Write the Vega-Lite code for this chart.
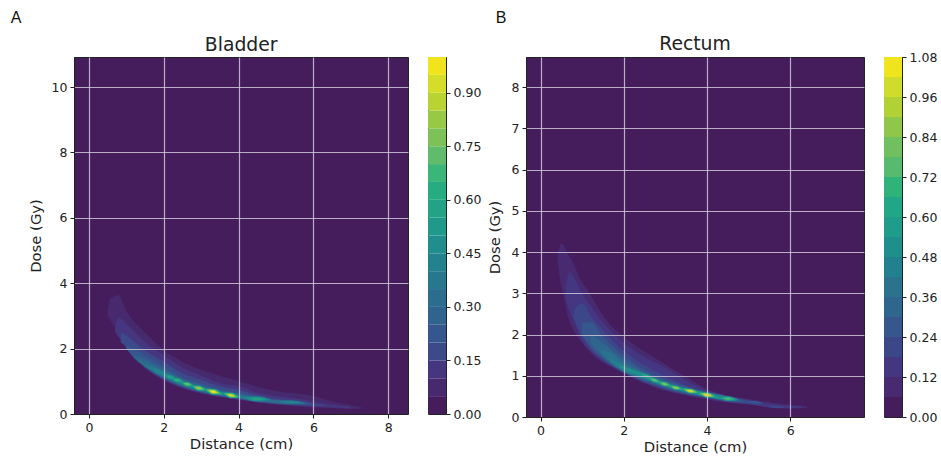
{
"$schema":"https://vega.github.io/schema/vega-lite/v6.json",
"autosize":{"type":"pad"},
"padding":{"left":10,"top":9,"right":5,"bottom":2},
"background":"white",
"config":{"font":"DejaVu Sans","view":{"stroke":"#222222","strokeWidth":1},
"axis":{"labelColor":"#222222","titleColor":"#222222","tickColor":"#222222","domainColor":"#222222","labelFontSize":12.5,"titleFontSize":14.8,"titleFontWeight":"normal","tickSize":4,"labelPadding":3,"labelFont":"DejaVu Sans","titleFont":"DejaVu Sans"}},
"bounds":"flush",
"spacing":20,
"resolve":{"scale":{"color":"independent"}},
"datasets":{
"bladder":[
{"l":0.05,"s":"o","x":0.5,"y":3.0,"y2":3.15},{"l":0.05,"s":"o","x":0.56,"y":2.9,"y2":3.52},{"l":0.05,"s":"o","x":0.79,"y":2.45,"y2":3.63},{"l":0.05,"s":"o","x":1,"y":2.0,"y2":3.15},{"l":0.05,"s":"o","x":1.5,"y":1.4,"y2":2.5},{"l":0.05,"s":"o","x":2,"y":1.02,"y2":1.95},{"l":0.05,"s":"o","x":2.5,"y":0.78,"y2":1.6},{"l":0.05,"s":"o","x":3,"y":0.62,"y2":1.35},{"l":0.05,"s":"o","x":4,"y":0.43,"y2":1.0},{"l":0.05,"s":"o","x":5,"y":0.29,"y2":0.7},{"l":0.05,"s":"o","x":6,"y":0.2,"y2":0.55},{"l":0.05,"s":"o","x":6.5,"y":0.18,"y2":0.38},{"l":0.05,"s":"o","x":7,"y":0.15,"y2":0.27},{"l":0.05,"s":"o","x":7.3,"y":0.17,"y2":0.2},
{"l":0.1,"s":"p","x":0.7,"y":2.5,"y2":2.7},{"l":0.1,"s":"p","x":0.8,"y":2.35,"y2":2.95},{"l":0.1,"s":"p","x":1,"y":2.03,"y2":2.75},{"l":0.1,"s":"p","x":1.5,"y":1.41,"y2":2.2},{"l":0.1,"s":"p","x":2,"y":1.05,"y2":1.8},{"l":0.1,"s":"p","x":2.5,"y":0.8,"y2":1.42},{"l":0.1,"s":"p","x":3,"y":0.64,"y2":1.18},{"l":0.1,"s":"p","x":3.5,"y":0.52,"y2":0.95},{"l":0.1,"s":"p","x":4,"y":0.45,"y2":0.85},{"l":0.1,"s":"p","x":4.5,"y":0.36,"y2":0.65},{"l":0.1,"s":"p","x":5,"y":0.3,"y2":0.55},{"l":0.1,"s":"p","x":5.5,"y":0.26,"y2":0.48},{"l":0.1,"s":"p","x":6,"y":0.22,"y2":0.38},{"l":0.1,"s":"p","x":6.5,"y":0.2,"y2":0.28},{"l":0.1,"s":"p","x":7,"y":0.17,"y2":0.22},
{"l":0.15,"s":"q","x":0.85,"y":2.2,"y2":2.5},{"l":0.15,"s":"q","x":1,"y":2.05,"y2":2.4},{"l":0.15,"s":"q","x":1.5,"y":1.42,"y2":1.95},{"l":0.15,"s":"q","x":2,"y":1.07,"y2":1.6},{"l":0.15,"s":"q","x":2.5,"y":0.82,"y2":1.25},{"l":0.15,"s":"q","x":3,"y":0.66,"y2":1.05},{"l":0.15,"s":"q","x":3.5,"y":0.54,"y2":0.85},{"l":0.15,"s":"q","x":4,"y":0.46,"y2":0.74},{"l":0.15,"s":"q","x":4.5,"y":0.37,"y2":0.58},{"l":0.15,"s":"q","x":5,"y":0.31,"y2":0.47},{"l":0.15,"s":"q","x":5.5,"y":0.28,"y2":0.42},{"l":0.15,"s":"q","x":6,"y":0.25,"y2":0.32},{"l":0.15,"s":"q","x":6.3,"y":0.25,"y2":0.27},
{"l":0.2,"s":"r","x":1,"y":2.0,"y2":2.1},{"l":0.2,"s":"r","x":1.2,"y":1.72,"y2":2.0},{"l":0.2,"s":"r","x":1.5,"y":1.44,"y2":1.8},{"l":0.2,"s":"r","x":2,"y":1.09,"y2":1.45},{"l":0.2,"s":"r","x":2.5,"y":0.84,"y2":1.12},{"l":0.2,"s":"r","x":3,"y":0.67,"y2":0.93},{"l":0.2,"s":"r","x":3.5,"y":0.55,"y2":0.76},{"l":0.2,"s":"r","x":4,"y":0.47,"y2":0.66},{"l":0.2,"s":"r","x":4.5,"y":0.38,"y2":0.53},{"l":0.2,"s":"r","x":5,"y":0.32,"y2":0.43},{"l":0.2,"s":"r","x":5.5,"y":0.29,"y2":0.39},{"l":0.2,"s":"r","x":5.9,"y":0.3,"y2":0.33},
{"l":0.25,"s":"t","x":1.2,"y":1.72,"y2":1.8},{"l":0.25,"s":"t","x":1.5,"y":1.46,"y2":1.68},{"l":0.25,"s":"t","x":2,"y":1.1,"y2":1.38},{"l":0.25,"s":"t","x":2.5,"y":0.85,"y2":1.08},{"l":0.25,"s":"t","x":3,"y":0.68,"y2":0.88},{"l":0.25,"s":"t","x":3.5,"y":0.56,"y2":0.73},{"l":0.25,"s":"t","x":4,"y":0.48,"y2":0.62},{"l":0.25,"s":"t","x":4.5,"y":0.39,"y2":0.52},{"l":0.25,"s":"t","x":5,"y":0.33,"y2":0.42},{"l":0.25,"s":"t","x":5.5,"y":0.3,"y2":0.39},{"l":0.25,"s":"t","x":5.7,"y":0.32,"y2":0.35},
{"l":0.3,"s":"u","x":1.3,"y":1.62,"y2":1.68},{"l":0.3,"s":"u","x":1.6,"y":1.38,"y2":1.55},{"l":0.3,"s":"u","x":2,"y":1.12,"y2":1.33},{"l":0.3,"s":"u","x":2.5,"y":0.86,"y2":1.05},{"l":0.3,"s":"u","x":3,"y":0.69,"y2":0.85},{"l":0.3,"s":"u","x":3.5,"y":0.57,"y2":0.71},{"l":0.3,"s":"u","x":4,"y":0.49,"y2":0.6},{"l":0.3,"s":"u","x":4.5,"y":0.4,"y2":0.51},{"l":0.3,"s":"u","x":5,"y":0.34,"y2":0.41},{"l":0.3,"s":"u","x":5.5,"y":0.31,"y2":0.38},
{"l":0.35,"s":"v","x":1.5,"y":1.46,"y2":1.52},{"l":0.35,"s":"v","x":2,"y":1.14,"y2":1.3},{"l":0.35,"s":"v","x":2.5,"y":0.88,"y2":1.02},{"l":0.35,"s":"v","x":3,"y":0.71,"y2":0.83},{"l":0.35,"s":"v","x":3.5,"y":0.59,"y2":0.69},{"l":0.35,"s":"v","x":4,"y":0.5,"y2":0.58},{"l":0.35,"s":"v","x":4.4,"y":0.42,"y2":0.49},{"l":0.35,"s":"v2","x":5.05,"y":0.4,"y2":0.405},{"l":0.35,"s":"v2","x":5.43,"y":0.305,"y2":0.415},{"l":0.35,"s":"v2","x":5.81,"y":0.33,"y2":0.335},
{"l":0.4,"s":"w","x":1.75,"y":1.28,"y2":1.42},{"l":0.4,"s":"w","x":2,"y":1.16,"y2":1.28},{"l":0.4,"s":"w","x":2.5,"y":0.9,"y2":1.0},{"l":0.4,"s":"w","x":3,"y":0.73,"y2":0.81},{"l":0.4,"s":"w","x":3.5,"y":0.6,"y2":0.68},{"l":0.4,"s":"w","x":3.95,"y":0.5,"y2":0.58},{"l":0.4,"s":"w2","x":4.11,"y":0.5,"y2":0.505},{"l":0.4,"s":"w2","x":4.49,"y":0.38,"y2":0.54},{"l":0.4,"s":"w2","x":4.87,"y":0.43,"y2":0.435},{"l":0.4,"s":"w3","x":5.23,"y":0.38,"y2":0.385},{"l":0.4,"s":"w3","x":5.43,"y":0.33,"y2":0.39},{"l":0.4,"s":"w3","x":5.63,"y":0.345,"y2":0.35},
{"l":0.5,"s":"a5","x":2.03,"y":1.18,"y2":1.185},{"l":0.5,"s":"a5","x":2.17,"y":1.075,"y2":1.185},{"l":0.5,"s":"a5","x":2.31,"y":1.09,"y2":1.095},
{"l":0.5,"s":"b5","x":2.22,"y":1.08,"y2":1.085},{"l":0.5,"s":"b5","x":2.37,"y":0.97,"y2":1.09},{"l":0.5,"s":"b5","x":2.52,"y":0.985,"y2":0.99},
{"l":0.5,"s":"c5","x":2.45,"y":0.975,"y2":0.98},{"l":0.5,"s":"c5","x":2.63,"y":0.84,"y2":0.98},{"l":0.5,"s":"c5","x":2.81,"y":0.855,"y2":0.86},
{"l":0.5,"s":"d5","x":2.73,"y":0.865,"y2":0.87},{"l":0.5,"s":"d5","x":2.94,"y":0.71,"y2":0.87},{"l":0.5,"s":"d5","x":3.15,"y":0.73,"y2":0.735},
{"l":0.5,"s":"e5","x":3.07,"y":0.77,"y2":0.775},{"l":0.5,"s":"e5","x":3.33,"y":0.59,"y2":0.77},{"l":0.5,"s":"e5","x":3.59,"y":0.6,"y2":0.605},
{"l":0.5,"s":"f5","x":3.56,"y":0.65,"y2":0.655},{"l":0.5,"s":"f5","x":3.8,"y":0.485,"y2":0.655},{"l":0.5,"s":"f5","x":4.04,"y":0.5,"y2":0.505},
{"l":0.5,"s":"g5","x":4.24,"y":0.49,"y2":0.495},{"l":0.5,"s":"g5","x":4.49,"y":0.41,"y2":0.51},{"l":0.5,"s":"g5","x":4.74,"y":0.44,"y2":0.445},
{"l":0.55,"s":"a6","x":2.09,"y":1.16,"y2":1.165},{"l":0.55,"s":"a6","x":2.17,"y":1.1,"y2":1.16},{"l":0.55,"s":"a6","x":2.25,"y":1.105,"y2":1.11},
{"l":0.55,"s":"g6","x":4.35,"y":0.475,"y2":0.48},{"l":0.55,"s":"g6","x":4.49,"y":0.43,"y2":0.49},{"l":0.55,"s":"g6","x":4.63,"y":0.45,"y2":0.455},
{"l":0.6,"s":"b6","x":2.27,"y":1.065,"y2":1.07},{"l":0.6,"s":"b6","x":2.37,"y":0.99,"y2":1.07},{"l":0.6,"s":"b6","x":2.47,"y":1.0,"y2":1.005},
{"l":0.6,"s":"c6","x":2.49,"y":0.96,"y2":0.965},{"l":0.6,"s":"c6","x":2.63,"y":0.855,"y2":0.965},{"l":0.6,"s":"c6","x":2.77,"y":0.87,"y2":0.875},
{"l":0.6,"s":"d6","x":2.77,"y":0.85,"y2":0.855},{"l":0.6,"s":"d6","x":2.94,"y":0.725,"y2":0.855},{"l":0.6,"s":"d6","x":3.11,"y":0.74,"y2":0.745},
{"l":0.6,"s":"e6","x":3.11,"y":0.757,"y2":0.76},{"l":0.6,"s":"e6","x":3.33,"y":0.605,"y2":0.755},{"l":0.6,"s":"e6","x":3.55,"y":0.615,"y2":0.62},
{"l":0.6,"s":"f6","x":3.6,"y":0.64,"y2":0.645},{"l":0.6,"s":"f6","x":3.8,"y":0.5,"y2":0.64},{"l":0.6,"s":"f6","x":4,"y":0.51,"y2":0.515},
{"l":0.7,"s":"c7","x":2.54,"y":0.94,"y2":0.945},{"l":0.7,"s":"c7","x":2.63,"y":0.875,"y2":0.945},{"l":0.7,"s":"c7","x":2.72,"y":0.885,"y2":0.89},
{"l":0.7,"s":"d7","x":2.81,"y":0.835,"y2":0.84},{"l":0.7,"s":"d7","x":2.94,"y":0.74,"y2":0.84},{"l":0.7,"s":"d7","x":3.07,"y":0.75,"y2":0.755},
{"l":0.7,"s":"e7","x":3.15,"y":0.743,"y2":0.748},{"l":0.7,"s":"e7","x":3.33,"y":0.615,"y2":0.745},{"l":0.7,"s":"e7","x":3.51,"y":0.625,"y2":0.63},
{"l":0.7,"s":"f7","x":3.64,"y":0.625,"y2":0.63},{"l":0.7,"s":"f7","x":3.8,"y":0.51,"y2":0.63},{"l":0.7,"s":"f7","x":3.96,"y":0.52,"y2":0.525},
{"l":0.8,"s":"d8","x":2.86,"y":0.82,"y2":0.825},{"l":0.8,"s":"d8","x":2.94,"y":0.76,"y2":0.82},{"l":0.8,"s":"d8","x":3.02,"y":0.765,"y2":0.77},
{"l":0.8,"s":"e8","x":3.19,"y":0.73,"y2":0.735},{"l":0.8,"s":"e8","x":3.33,"y":0.63,"y2":0.73},{"l":0.8,"s":"e8","x":3.47,"y":0.64,"y2":0.645},
{"l":0.8,"s":"f8","x":3.68,"y":0.61,"y2":0.615},{"l":0.8,"s":"f8","x":3.8,"y":0.525,"y2":0.615},{"l":0.8,"s":"f8","x":3.92,"y":0.535,"y2":0.54},
{"l":0.9,"s":"e9","x":3.23,"y":0.715,"y2":0.72},{"l":0.9,"s":"e9","x":3.33,"y":0.64,"y2":0.72},{"l":0.9,"s":"e9","x":3.43,"y":0.65,"y2":0.655},
{"l":0.9,"s":"f9","x":3.72,"y":0.6,"y2":0.605},{"l":0.9,"s":"f9","x":3.8,"y":0.54,"y2":0.6},{"l":0.9,"s":"f9","x":3.88,"y":0.545,"y2":0.55},
{"l":0.95,"s":"e10","x":3.27,"y":0.7,"y2":0.705},{"l":0.95,"s":"e10","x":3.33,"y":0.655,"y2":0.705},{"l":0.95,"s":"e10","x":3.39,"y":0.66,"y2":0.665}
],
"rectum":[
{"l":0.06,"s":"o","x":0.41,"y":3.75,"y2":3.97},{"l":0.06,"s":"o","x":0.5,"y":3.15,"y2":4.2},{"l":0.06,"s":"o","x":0.55,"y":2.95,"y2":4.17},{"l":0.06,"s":"o","x":0.66,"y":2.43,"y2":3.95},{"l":0.06,"s":"o","x":0.79,"y":2.1,"y2":3.72},{"l":0.06,"s":"o","x":0.95,"y":1.86,"y2":3.35},{"l":0.06,"s":"o","x":1.18,"y":1.58,"y2":3.0},{"l":0.06,"s":"o","x":1.35,"y":1.42,"y2":2.7},{"l":0.06,"s":"o","x":1.58,"y":1.28,"y2":2.35},{"l":0.06,"s":"o","x":2,"y":1.05,"y2":1.94},{"l":0.06,"s":"o","x":2.7,"y":0.73,"y2":1.46},{"l":0.06,"s":"o","x":3.5,"y":0.52,"y2":0.97},{"l":0.06,"s":"o","x":3.9,"y":0.44,"y2":0.73},{"l":0.06,"s":"o","x":4.3,"y":0.37,"y2":0.57},{"l":0.06,"s":"o","x":5.1,"y":0.29,"y2":0.42},{"l":0.06,"s":"o","x":5.9,"y":0.2,"y2":0.31},{"l":0.06,"s":"o","x":6.4,"y":0.22,"y2":0.26},
{"l":0.12,"s":"p","x":0.6,"y":2.9,"y2":3.1},{"l":0.12,"s":"p","x":0.7,"y":2.55,"y2":3.52},{"l":0.12,"s":"p","x":0.85,"y":2.2,"y2":3.3},{"l":0.12,"s":"p","x":1,"y":1.85,"y2":3.0},{"l":0.12,"s":"p","x":1.2,"y":1.6,"y2":2.7},{"l":0.12,"s":"p","x":1.5,"y":1.35,"y2":2.3},{"l":0.12,"s":"p","x":2,"y":1.07,"y2":1.8},{"l":0.12,"s":"p","x":2.5,"y":0.83,"y2":1.45},{"l":0.12,"s":"p","x":3,"y":0.65,"y2":1.2},{"l":0.12,"s":"p","x":3.5,"y":0.54,"y2":0.88},{"l":0.12,"s":"p","x":4,"y":0.45,"y2":0.65},{"l":0.12,"s":"p","x":4.5,"y":0.36,"y2":0.52},{"l":0.12,"s":"p","x":5,"y":0.31,"y2":0.42},{"l":0.12,"s":"p","x":5.5,"y":0.23,"y2":0.33},{"l":0.12,"s":"p","x":6,"y":0.21,"y2":0.27},{"l":0.12,"s":"p","x":6.3,"y":0.23,"y2":0.25},
{"l":0.18,"s":"q","x":0.8,"y":2.4,"y2":2.6},{"l":0.18,"s":"q","x":1,"y":1.95,"y2":2.75},{"l":0.18,"s":"q","x":1.2,"y":1.65,"y2":2.45},{"l":0.18,"s":"q","x":1.5,"y":1.38,"y2":2.1},{"l":0.18,"s":"q","x":2,"y":1.08,"y2":1.6},{"l":0.18,"s":"q","x":2.5,"y":0.85,"y2":1.25},{"l":0.18,"s":"q","x":3,"y":0.67,"y2":0.98},{"l":0.18,"s":"q","x":3.5,"y":0.55,"y2":0.76},{"l":0.18,"s":"q","x":4,"y":0.46,"y2":0.62},{"l":0.18,"s":"q","x":4.5,"y":0.37,"y2":0.5},{"l":0.18,"s":"q","x":5,"y":0.32,"y2":0.4},{"l":0.18,"s":"q","x":5.3,"y":0.3,"y2":0.34},
{"l":0.18,"s":"q2","x":5.45,"y":0.26,"y2":0.265},{"l":0.18,"s":"q2","x":5.65,"y":0.22,"y2":0.27},{"l":0.18,"s":"q2","x":5.85,"y":0.225,"y2":0.23},
{"l":0.24,"s":"r","x":1,"y":2.0,"y2":2.3},{"l":0.24,"s":"r","x":1.2,"y":1.7,"y2":2.3},{"l":0.24,"s":"r","x":1.5,"y":1.42,"y2":1.95},{"l":0.24,"s":"r","x":2,"y":1.09,"y2":1.48},{"l":0.24,"s":"r","x":2.5,"y":0.87,"y2":1.14},{"l":0.24,"s":"r","x":3,"y":0.69,"y2":0.9},{"l":0.24,"s":"r","x":3.5,"y":0.56,"y2":0.74},{"l":0.24,"s":"r","x":4,"y":0.47,"y2":0.6},{"l":0.24,"s":"r","x":4.5,"y":0.38,"y2":0.49},{"l":0.24,"s":"r","x":4.9,"y":0.36,"y2":0.39},
{"l":0.24,"s":"r2","x":4.95,"y":0.385,"y2":0.39},{"l":0.24,"s":"r2","x":5.15,"y":0.325,"y2":0.385},{"l":0.24,"s":"r2","x":5.35,"y":0.325,"y2":0.33},
{"l":0.3,"s":"t","x":1.2,"y":1.8,"y2":2.0},{"l":0.3,"s":"t","x":1.5,"y":1.46,"y2":1.8},{"l":0.3,"s":"t","x":2,"y":1.1,"y2":1.38},{"l":0.3,"s":"t","x":2.5,"y":0.9,"y2":1.08},{"l":0.3,"s":"t","x":3,"y":0.72,"y2":0.88},{"l":0.3,"s":"t","x":3.5,"y":0.58,"y2":0.72},{"l":0.3,"s":"t","x":4,"y":0.48,"y2":0.6},{"l":0.3,"s":"t","x":4.5,"y":0.39,"y2":0.5},{"l":0.3,"s":"t","x":4.7,"y":0.38,"y2":0.43},
{"l":0.36,"s":"u","x":1.45,"y":1.55,"y2":1.62},{"l":0.36,"s":"u","x":1.7,"y":1.3,"y2":1.55},{"l":0.36,"s":"u","x":2,"y":1.1,"y2":1.3},{"l":0.36,"s":"u","x":2.5,"y":0.92,"y2":1.06},{"l":0.36,"s":"u","x":3,"y":0.73,"y2":0.85},{"l":0.36,"s":"u","x":3.5,"y":0.59,"y2":0.7},{"l":0.36,"s":"u","x":4,"y":0.49,"y2":0.59},{"l":0.36,"s":"u","x":4.5,"y":0.4,"y2":0.49},{"l":0.36,"s":"u","x":4.75,"y":0.39,"y2":0.41},
{"l":0.42,"s":"v","x":1.7,"y":1.35,"y2":1.42},{"l":0.42,"s":"v","x":2,"y":1.12,"y2":1.25},{"l":0.42,"s":"v","x":2.5,"y":0.93,"y2":1.04},{"l":0.42,"s":"v","x":3,"y":0.74,"y2":0.83},{"l":0.42,"s":"v","x":3.5,"y":0.6,"y2":0.69},{"l":0.42,"s":"v","x":4,"y":0.5,"y2":0.58},{"l":0.42,"s":"v","x":4.5,"y":0.41,"y2":0.48},{"l":0.42,"s":"v","x":4.7,"y":0.4,"y2":0.42},
{"l":0.48,"s":"w","x":1.9,"y":1.2,"y2":1.27},{"l":0.48,"s":"w","x":2.2,"y":1.07,"y2":1.15},{"l":0.48,"s":"w","x":2.55,"y":0.94,"y2":1.03},{"l":0.48,"s":"w","x":2.74,"y":0.85,"y2":0.93},{"l":0.48,"s":"w","x":3,"y":0.75,"y2":0.82},{"l":0.48,"s":"w","x":3.25,"y":0.67,"y2":0.74},{"l":0.48,"s":"w","x":3.6,"y":0.58,"y2":0.67},{"l":0.48,"s":"w","x":4,"y":0.49,"y2":0.58},{"l":0.48,"s":"w","x":4.3,"y":0.43,"y2":0.5},
{"l":0.48,"s":"w5","x":4.24,"y":0.485,"y2":0.49},{"l":0.48,"s":"w5","x":4.5,"y":0.385,"y2":0.505},{"l":0.48,"s":"w5","x":4.76,"y":0.41,"y2":0.415},
{"l":0.6,"s":"a6","x":2.43,"y":1.03,"y2":1.035},{"l":0.6,"s":"a6","x":2.55,"y":0.95,"y2":1.03},{"l":0.6,"s":"a6","x":2.67,"y":0.95,"y2":0.955},
{"l":0.6,"s":"b6","x":2.61,"y":0.94,"y2":0.945},{"l":0.6,"s":"b6","x":2.74,"y":0.845,"y2":0.935},{"l":0.6,"s":"b6","x":2.87,"y":0.85,"y2":0.855},
{"l":0.6,"s":"c6","x":2.83,"y":0.85,"y2":0.855},{"l":0.6,"s":"c6","x":2.98,"y":0.75,"y2":0.85},{"l":0.6,"s":"c6","x":3.13,"y":0.76,"y2":0.765},
{"l":0.6,"s":"d6","x":3.09,"y":0.76,"y2":0.765},{"l":0.6,"s":"d6","x":3.25,"y":0.66,"y2":0.76},{"l":0.6,"s":"d6","x":3.41,"y":0.67,"y2":0.675},
{"l":0.6,"s":"e6","x":3.4,"y":0.69,"y2":0.695},{"l":0.6,"s":"e6","x":3.6,"y":0.575,"y2":0.685},{"l":0.6,"s":"e6","x":3.8,"y":0.585,"y2":0.59},
{"l":0.6,"s":"f6","x":3.78,"y":0.585,"y2":0.59},{"l":0.6,"s":"f6","x":4,"y":0.475,"y2":0.595},{"l":0.6,"s":"f6","x":4.22,"y":0.49,"y2":0.495},
{"l":0.6,"s":"g6","x":4.33,"y":0.47,"y2":0.475},{"l":0.6,"s":"g6","x":4.5,"y":0.405,"y2":0.485},{"l":0.6,"s":"g6","x":4.67,"y":0.42,"y2":0.425},
{"l":0.72,"s":"b7","x":2.66,"y":0.92,"y2":0.925},{"l":0.72,"s":"b7","x":2.74,"y":0.86,"y2":0.92},{"l":0.72,"s":"b7","x":2.82,"y":0.865,"y2":0.87},
{"l":0.72,"s":"c7","x":2.88,"y":0.83,"y2":0.835},{"l":0.72,"s":"c7","x":2.98,"y":0.765,"y2":0.835},{"l":0.72,"s":"c7","x":3.08,"y":0.77,"y2":0.775},
{"l":0.72,"s":"d7","x":3.14,"y":0.745,"y2":0.75},{"l":0.72,"s":"d7","x":3.25,"y":0.675,"y2":0.745},{"l":0.72,"s":"d7","x":3.36,"y":0.68,"y2":0.685},
{"l":0.72,"s":"e7","x":3.44,"y":0.67,"y2":0.675},{"l":0.72,"s":"e7","x":3.6,"y":0.585,"y2":0.675},{"l":0.72,"s":"e7","x":3.76,"y":0.595,"y2":0.6},
{"l":0.72,"s":"f7","x":3.83,"y":0.575,"y2":0.58},{"l":0.72,"s":"f7","x":4,"y":0.485,"y2":0.585},{"l":0.72,"s":"f7","x":4.17,"y":0.5,"y2":0.505},
{"l":0.72,"s":"g7","x":4.41,"y":0.455,"y2":0.46},{"l":0.72,"s":"g7","x":4.5,"y":0.423,"y2":0.467},{"l":0.72,"s":"g7","x":4.59,"y":0.43,"y2":0.435},
{"l":0.84,"s":"c8","x":2.93,"y":0.815,"y2":0.82},{"l":0.84,"s":"c8","x":2.98,"y":0.782,"y2":0.818},{"l":0.84,"s":"c8","x":3.03,"y":0.785,"y2":0.79},
{"l":0.84,"s":"d8","x":3.18,"y":0.73,"y2":0.735},{"l":0.84,"s":"d8","x":3.25,"y":0.688,"y2":0.732},{"l":0.84,"s":"d8","x":3.32,"y":0.69,"y2":0.695},
{"l":0.84,"s":"e8","x":3.48,"y":0.66,"y2":0.665},{"l":0.84,"s":"e8","x":3.6,"y":0.595,"y2":0.665},{"l":0.84,"s":"e8","x":3.72,"y":0.6,"y2":0.605},
{"l":0.84,"s":"f8","x":3.87,"y":0.565,"y2":0.57},{"l":0.84,"s":"f8","x":4,"y":0.495,"y2":0.575},{"l":0.84,"s":"f8","x":4.13,"y":0.505,"y2":0.51},
{"l":0.96,"s":"e9","x":3.52,"y":0.65,"y2":0.655},{"l":0.96,"s":"e9","x":3.6,"y":0.608,"y2":0.652},{"l":0.96,"s":"e9","x":3.68,"y":0.61,"y2":0.615},
{"l":0.96,"s":"f9","x":3.91,"y":0.555,"y2":0.56},{"l":0.96,"s":"f9","x":4,"y":0.505,"y2":0.565},{"l":0.96,"s":"f9","x":4.09,"y":0.515,"y2":0.52},
{"l":1.02,"s":"f10","x":3.95,"y":0.545,"y2":0.55},{"l":1.02,"s":"f10","x":4,"y":0.517,"y2":0.553},{"l":1.02,"s":"f10","x":4.05,"y":0.525,"y2":0.53}
]
},
"hconcat":[
{"width":334,"height":357,
"view":{"fill":"#451d5c"},
"layer":[
{"data":{"name":"bladder"},"mark":{"type":"area","interpolate":"monotone"},
"encoding":{
"x":{"field":"x","type":"quantitative","scale":{"domain":[-0.4,8.53],"nice":false,"zero":false},"axis":{"values":[0,2,4,6,8],"title":"Distance (cm)","grid":true,"gridColor":"#cfc8d8","gridOpacity":0.85,"gridWidth":1.2,"zindex":1,"titlePadding":3,"format":"d"}},
"y":{"field":"y","type":"quantitative","scale":{"domain":[0,10.92],"nice":false,"zero":false},"axis":{"values":[0,2,4,6,8,10],"title":"Dose (Gy)","grid":true,"gridColor":"#cfc8d8","gridOpacity":0.85,"gridWidth":1.2,"zindex":1,"titlePadding":8,"format":"d"}},
"y2":{"field":"y2"},
"detail":{"field":"s"},
"color":{"field":"l","type":"ordinal","legend":null,"scale":{"domain":[0,0.05,0.1,0.15,0.2,0.25,0.3,0.35,0.4,0.45,0.5,0.55,0.6,0.65,0.7,0.75,0.8,0.85,0.9,0.95],"range":["#451d5c","#472a6e","#46357f","#3c4a8a","#35578d","#30638e","#2c6d8e","#27788e","#22838e","#1f8e8c","#1f9a8a","#22a386","#25ac80","#3ab678","#60bc6a","#7cc257","#97c945","#b9d332","#d4dd28","#f1e41c"]}}
}},
{"data":{"values":[{"t":"A","x":-1.95,"y":12.1}]},"mark":{"type":"text","font":"Liberation Sans","fontSize":16,"color":"#111111"},
"encoding":{"x":{"field":"x","type":"quantitative"},"y":{"field":"y","type":"quantitative"},"text":{"field":"t"}}},
{"data":{"values":[{"t":"Bladder","x":4.07,"y":11.29}]},"mark":{"type":"text","font":"DejaVu Sans","fontSize":18.8,"color":"#222222"},
"encoding":{"x":{"field":"x","type":"quantitative"},"y":{"field":"y","type":"quantitative"},"text":{"field":"t"}}}
]},
{"width":18,"height":357,
"data":{"values":[{"lo":0,"hi":0.05},{"lo":0.05,"hi":0.1},{"lo":0.1,"hi":0.15},{"lo":0.15,"hi":0.2},{"lo":0.2,"hi":0.25},{"lo":0.25,"hi":0.3},{"lo":0.3,"hi":0.35},{"lo":0.35,"hi":0.4},{"lo":0.4,"hi":0.45},{"lo":0.45,"hi":0.5},{"lo":0.5,"hi":0.55},{"lo":0.55,"hi":0.6},{"lo":0.6,"hi":0.65},{"lo":0.65,"hi":0.7},{"lo":0.7,"hi":0.75},{"lo":0.75,"hi":0.8},{"lo":0.8,"hi":0.85},{"lo":0.85,"hi":0.9},{"lo":0.9,"hi":0.95},{"lo":0.95,"hi":1.0}]},
"mark":"rect",
"encoding":{
"y":{"field":"lo","type":"quantitative","scale":{"domain":[0,1.0],"nice":false},"axis":{"orient":"right","values":[0,0.15,0.3,0.45,0.6,0.75,0.9],"format":".2f","title":null,"grid":false,"domain":false}},
"y2":{"field":"hi"},
"color":{"field":"lo","type":"ordinal","legend":null,"scale":{"domain":[0,0.05,0.1,0.15,0.2,0.25,0.3,0.35,0.4,0.45,0.5,0.55,0.6,0.65,0.7,0.75,0.8,0.85,0.9,0.95],"range":["#451d5c","#472a6e","#46357f","#3c4a8a","#35578d","#30638e","#2c6d8e","#27788e","#22838e","#1f8e8c","#1f9a8a","#22a386","#25ac80","#3ab678","#60bc6a","#7cc257","#97c945","#b9d332","#d4dd28","#f1e41c"]}}
}},
{"width":40,"height":357,"view":{"stroke":null},"data":{"values":[]},"mark":"rect","encoding":{}},
{"width":338,"height":360,
"view":{"fill":"#451d5c"},
"layer":[
{"data":{"name":"rectum"},"mark":{"type":"area","interpolate":"monotone"},
"encoding":{
"x":{"field":"x","type":"quantitative","scale":{"domain":[-0.35,7.77],"nice":false,"zero":false},"axis":{"values":[0,2,4,6],"title":"Distance (cm)","grid":true,"gridColor":"#cfc8d8","gridOpacity":0.85,"gridWidth":1.2,"zindex":1,"titlePadding":3,"format":"d"}},
"y":{"field":"y","type":"quantitative","scale":{"domain":[0,8.73],"nice":false,"zero":false},"axis":{"values":[0,1,2,3,4,5,6,7,8],"title":"Dose (Gy)","grid":true,"gridColor":"#cfc8d8","gridOpacity":0.85,"gridWidth":1.2,"zindex":1,"titlePadding":9,"format":"d"}},
"y2":{"field":"y2"},
"detail":{"field":"s"},
"color":{"field":"l","type":"ordinal","legend":null,"scale":{"domain":[0,0.06,0.12,0.18,0.24,0.3,0.36,0.42,0.48,0.54,0.6,0.66,0.72,0.78,0.84,0.9,0.96,1.02],"range":["#451d5c","#472a6f","#453682","#3c4789","#35578d","#2f668e","#2a728e","#23808e","#1f8f8c","#1f9d8a","#22a786","#2fb37b","#57ba6f","#70c05f","#8fc74a","#b2d135","#cfdc2b","#f0e41c"]}}
}},
{"data":{"values":[{"t":"B","x":-0.95,"y":9.67}]},"mark":{"type":"text","font":"Liberation Sans","fontSize":16,"color":"#111111"},
"encoding":{"x":{"field":"x","type":"quantitative"},"y":{"field":"y","type":"quantitative"},"text":{"field":"t"}}},
{"data":{"values":[{"t":"Rectum","x":3.71,"y":9.04}]},"mark":{"type":"text","font":"DejaVu Sans","fontSize":18.8,"color":"#222222"},
"encoding":{"x":{"field":"x","type":"quantitative"},"y":{"field":"y","type":"quantitative"},"text":{"field":"t"}}}
]},
{"width":18,"height":360,
"data":{"values":[{"lo":0,"hi":0.06},{"lo":0.06,"hi":0.12},{"lo":0.12,"hi":0.18},{"lo":0.18,"hi":0.24},{"lo":0.24,"hi":0.3},{"lo":0.3,"hi":0.36},{"lo":0.36,"hi":0.42},{"lo":0.42,"hi":0.48},{"lo":0.48,"hi":0.54},{"lo":0.54,"hi":0.6},{"lo":0.6,"hi":0.66},{"lo":0.66,"hi":0.72},{"lo":0.72,"hi":0.78},{"lo":0.78,"hi":0.84},{"lo":0.84,"hi":0.9},{"lo":0.9,"hi":0.96},{"lo":0.96,"hi":1.02},{"lo":1.02,"hi":1.08}]},
"mark":"rect",
"encoding":{
"y":{"field":"lo","type":"quantitative","scale":{"domain":[0,1.08],"nice":false},"axis":{"orient":"right","values":[0,0.12,0.24,0.36,0.48,0.6,0.72,0.84,0.96,1.08],"format":".2f","title":null,"grid":false,"domain":false}},
"y2":{"field":"hi"},
"color":{"field":"lo","type":"ordinal","legend":null,"scale":{"domain":[0,0.06,0.12,0.18,0.24,0.3,0.36,0.42,0.48,0.54,0.6,0.66,0.72,0.78,0.84,0.9,0.96,1.02],"range":["#451d5c","#472a6f","#453682","#3c4789","#35578d","#2f668e","#2a728e","#23808e","#1f8f8c","#1f9d8a","#22a786","#2fb37b","#57ba6f","#70c05f","#8fc74a","#b2d135","#cfdc2b","#f0e41c"]}}
}}
]
}
